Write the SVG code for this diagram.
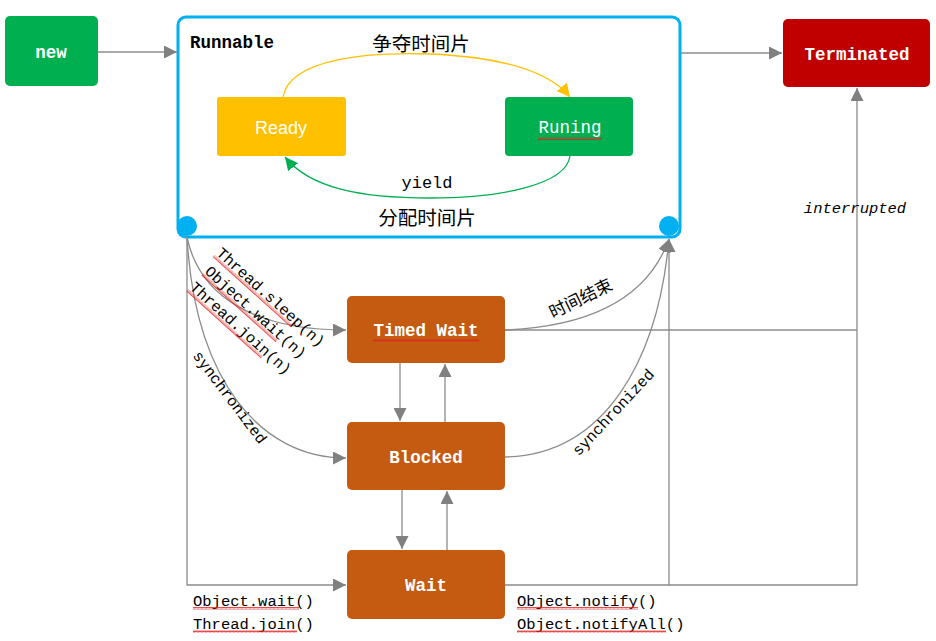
<svg xmlns="http://www.w3.org/2000/svg" width="936" height="641" viewBox="0 0 936 641">
<style>
.node text{fill:#fff;font-family:"Liberation Mono","DejaVu Sans Mono",monospace;font-weight:bold;font-size:17.5px;text-anchor:middle;dominant-baseline:central}
.lbl{font-family:"Liberation Mono","DejaVu Sans Mono",monospace;font-size:15.5px;fill:#000}
.cn{font-family:"Noto Sans CJK SC","Noto Sans",sans-serif;fill:#000}
.conn path,.conn line,.conn polyline{fill:none;stroke:#8c8c8c;stroke-width:1.3}
.wavy{fill:url(#wv)}
</style>
<defs>
<marker id="ag" viewBox="0 0 12 12" refX="12" refY="6" markerWidth="13" markerHeight="13" markerUnits="userSpaceOnUse" orient="auto"><path d="M0,0 L12,6 L0,12 Z" fill="#808080"/></marker>
<marker id="ay" viewBox="0 0 12 12" refX="12" refY="6" markerWidth="13" markerHeight="13" markerUnits="userSpaceOnUse" orient="auto"><path d="M0,0 L12,6 L0,12 Z" fill="#FFC000"/></marker>
<marker id="agr" viewBox="0 0 12 12" refX="12" refY="6" markerWidth="13" markerHeight="13" markerUnits="userSpaceOnUse" orient="auto"><path d="M0,0 L12,6 L0,12 Z" fill="#00B050"/></marker>
<pattern id="wv" width="4" height="3" patternUnits="userSpaceOnUse"><path d="M0,2.5 L1,0.5 L2,2.5 L3,0.5 L4,2.5" fill="none" stroke="#e02020" stroke-width="0.8"/></pattern>
</defs>
<rect width="936" height="641" fill="#fff"/>

<g id="runnable">
<rect x="178" y="17" width="502" height="220" rx="8" fill="none" stroke="#00B0F0" stroke-width="3"/>
<text x="190" y="48" font-family="Liberation Mono,DejaVu Sans Mono,monospace" font-weight="bold" font-size="17.5" fill="#000">Runnable</text>
<circle cx="187" cy="226" r="10" fill="#00B0F0"/>
<circle cx="669" cy="226" r="10" fill="#00B0F0"/>
</g>

<g id="new" class="node"><rect x="5" y="16" width="93" height="70" rx="5" fill="#00B050"/><text x="51" y="53">new</text></g>
<g id="ready" class="node"><rect x="217" y="97" width="129" height="59" rx="3" fill="#FFC000"/><text x="281" y="128" style="font-family:'Liberation Sans','Noto Sans',sans-serif;font-weight:normal;font-size:18px">Ready</text></g>
<g id="runing" class="node"><rect x="505" y="97" width="128" height="59" rx="4" fill="#00B050"/><text x="570" y="128" style="font-weight:normal">Runing</text><rect class="wavy" x="538" y="137" width="64" height="3"/></g>
<g id="terminated" class="node"><rect x="783" y="19" width="147" height="68" rx="5" fill="#C00000"/><text x="857" y="55">Terminated</text></g>
<g id="timedwait" class="node"><rect x="347" y="296" width="158" height="67" rx="5" fill="#C55A11"/><text x="426" y="331">Timed Wait</text><rect class="wavy" x="373" y="339" width="106" height="3"/></g>
<g id="blocked" class="node"><rect x="347" y="422" width="158" height="68" rx="5" fill="#C55A11"/><text x="426" y="458">Blocked</text></g>
<g id="wait" class="node"><rect x="347" y="550" width="158" height="69" rx="5" fill="#C55A11"/><text x="426" y="586">Wait</text></g>

<g id="connectors" class="conn">
<line x1="98" y1="52" x2="177" y2="52" marker-end="url(#ag)"/>
<line x1="681" y1="53" x2="782" y2="53" marker-end="url(#ag)"/>
<path d="M283,97 C290,58 370,52 430,54 C500,57 548,70 570,97" style="stroke:#FFC000" marker-end="url(#ay)"/>
<path d="M570,156 C566,185 500,198 430,198 C360,198 310,188 285,157" style="stroke:#00B050" marker-end="url(#agr)"/>
<path d="M187,237 C200,300 260,330 346,330" marker-end="url(#ag)"/>
<path d="M187,237 C195,380 260,458 346,458" marker-end="url(#ag)"/>
<polyline points="187,237 187,585 346,585" marker-end="url(#ag)"/>
<line x1="400" y1="363" x2="400" y2="421" marker-end="url(#ag)"/>
<line x1="445" y1="422" x2="445" y2="364" marker-end="url(#ag)"/>
<line x1="402" y1="490" x2="402" y2="549" marker-end="url(#ag)"/>
<line x1="447" y1="550" x2="447" y2="491" marker-end="url(#ag)"/>
<path d="M505,330 C600,326 650,292 669,239" marker-end="url(#ag)"/>
<path d="M505,457 C605,455 658,360 669,239" marker-end="url(#ag)"/>
<polyline points="505,585 669,585 669,239" marker-end="url(#ag)"/>
<line x1="505" y1="330" x2="857" y2="330"/>
<polyline points="669,585 857,585 857,88" marker-end="url(#ag)"/>
</g>

<g id="labels">
<text class="cn" x="421" y="42" font-size="19.5" text-anchor="middle" dominant-baseline="central">争夺时间片</text>
<text class="lbl" x="427" y="183" text-anchor="middle" dominant-baseline="central" style="font-size:17px">yield</text>
<text class="cn" x="427" y="216" font-size="19.5" text-anchor="middle" dominant-baseline="central">分配时间片</text>
<text class="lbl" x="855" y="209" text-anchor="middle" dominant-baseline="central" font-style="italic">interrupted</text>
<g transform="translate(270,298) rotate(42)"><text class="lbl" text-anchor="middle" dominant-baseline="central">Thread.sleep(n)</text><rect class="wavy" x="-70" y="5" width="105" height="3"/></g>
<g transform="translate(255,313) rotate(42)"><text class="lbl" text-anchor="middle" dominant-baseline="central">Object.wait(n)</text><rect class="wavy" x="-65" y="5" width="100" height="3"/></g>
<g transform="translate(240,329) rotate(42)"><text class="lbl" text-anchor="middle" dominant-baseline="central">Thread.join(n)</text><rect class="wavy" x="-65" y="5" width="100" height="3"/></g>
<g transform="translate(229,398) rotate(53)"><text class="lbl" text-anchor="middle" dominant-baseline="central">synchronized</text></g>
<g transform="translate(580,297) rotate(-26)"><text class="cn" font-size="17" text-anchor="middle" dominant-baseline="central">时间结束</text></g>
<g transform="translate(614,413) rotate(-47)"><text class="lbl" text-anchor="middle" dominant-baseline="central">synchronized</text></g>
<text class="lbl" x="193" y="606">Object.wait()</text>
<rect class="wavy" x="193" y="607" width="106" height="3"/>
<text class="lbl" x="193" y="629">Thread.join()</text>
<rect class="wavy" x="193" y="630" width="104" height="3"/>
<text class="lbl" x="517" y="606">Object.notify()</text>
<rect class="wavy" x="517" y="607" width="121" height="3"/>
<text class="lbl" x="517" y="629">Object.notifyAll()</text>
<rect class="wavy" x="517" y="630" width="149" height="3"/>
</g>
</svg>
